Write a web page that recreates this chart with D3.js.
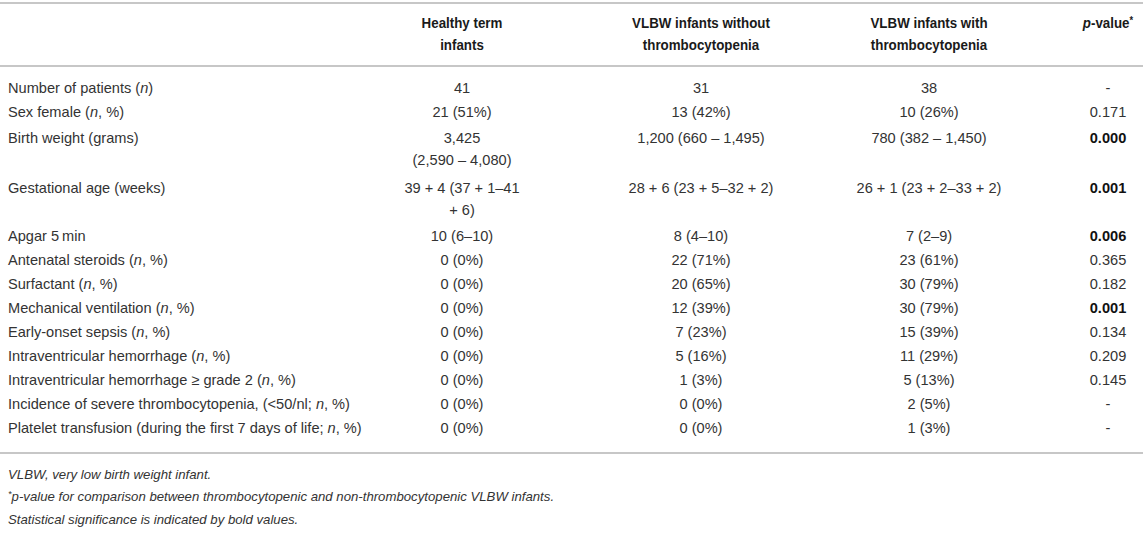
<!DOCTYPE html>
<html>
<head>
<meta charset="utf-8">
<script src="https://cdn.jsdelivr.net/npm/d3@7"></script>
<style>
html,body{margin:0;padding:0;background:#fff;}
svg{display:block;}
</style>
</head>
<body>
<div id="chart"></div>
<script>
// ---------- data ----------
const columnHeaders = [
  ["Healthy term", "infants"],
  ["VLBW infants without", "thrombocytopenia"],
  ["VLBW infants with", "thrombocytopenia"],
  ["*p*-value^*"]
];
const rowLabels = [
  "Number of patients (*n*)",
  "Sex female (*n*, %)",
  "Birth weight (grams)",
  "Gestational age (weeks)",
  "Apgar 5\u2009min",
  "Antenatal steroids (*n*, %)",
  "Surfactant (*n*, %)",
  "Mechanical ventilation (*n*, %)",
  "Early-onset sepsis (*n*, %)",
  "Intraventricular hemorrhage (*n*, %)",
  "Intraventricular hemorrhage \u2265 grade 2 (*n*, %)",
  "Incidence of severe thrombocytopenia, (<50/nl; *n*, %)",
  "Platelet transfusion (during the first 7 days of life; *n*, %)"
];
const healthyTerm = [
  "41", "21 (51%)", "3,425|(2,590 \u2013 4,080)", "39 + 4 (37 + 1\u201341|+ 6)",
  "10 (6\u201310)", "0 (0%)", "0 (0%)", "0 (0%)", "0 (0%)", "0 (0%)", "0 (0%)", "0 (0%)", "0 (0%)"
];
const vlbwWithout = [
  "31", "13 (42%)", "1,200 (660 \u2013 1,495)", "28 + 6 (23 + 5\u201332 + 2)",
  "8 (4\u201310)", "22 (71%)", "20 (65%)", "12 (39%)", "7 (23%)", "5 (16%)", "1 (3%)", "0 (0%)", "0 (0%)"
];
const vlbwWith = [
  "38", "10 (26%)", "780 (382 \u2013 1,450)", "26 + 1 (23 + 2\u201333 + 2)",
  "7 (2\u20139)", "23 (61%)", "30 (79%)", "30 (79%)", "15 (39%)", "11 (29%)", "5 (13%)", "2 (5%)", "1 (3%)"
];
const pValues = [
  "-", "0.171", "0.000", "0.001", "0.006", "0.365", "0.182", "0.001", "0.134", "0.209", "0.145", "-", "-"
];
const significant = [
  false, false, true, true, true, false, false, true, false, false, false, false, false
];
const footnotes = [
  "VLBW, very low birth weight infant.",
  "^*p-value for comparison between thrombocytopenic and non-thrombocytopenic VLBW infants.",
  "Statistical significance is indicated by bold values."
];

// ---------- layout ----------
const W = 1143, H = 536;
const svg = d3.select("#chart").append("svg").attr("width", W).attr("height", H);
const bodyFont = "'Liberation Sans', Arial, Helvetica, sans-serif";
const textColor = "#333";
const ruleColor = "#b5b5b5";

const colCenters = d3.scaleOrdinal().domain([0, 1, 2, 3]).range([462, 701, 929, 1108]);

// rich text: *x* italic, ^* superscript asterisk
function rich(sel, str) {
  const parts = str.split(/(\*[^*]+\*|\^\*)/).filter(s => s.length);
  let resetNext = false;
  parts.forEach(p => {
    let t;
    if (p === "^*") {
      t = sel.append("tspan").attr("font-size", "0.7em").attr("dy", "-0.45em").text("*");
      resetNext = true;
      return;
    } else if (p.startsWith("*") && p.endsWith("*")) {
      t = sel.append("tspan").attr("font-style", "italic").text(p.slice(1, -1));
    } else {
      t = sel.append("tspan").text(p);
    }
    if (resetNext) { t.attr("dy", "0.315em"); resetNext = false; }
  });
}

// rules
const rules = [3, 66, 453];
svg.selectAll("line.rule").data(rules).join("line")
  .attr("class", "rule")
  .attr("x1", 0).attr("x2", W)
  .attr("y1", d => d).attr("y2", d => d)
  .attr("stroke", ruleColor).attr("stroke-width", 1.6);

// header (condensed bold)
const headSize = 15;
columnHeaders.forEach((lines, ci) => {
  lines.forEach((ln, li) => {
    const cy = lines.length === 1 ? 23 : 23 + li * 22;
    const g = svg.append("g")
      .attr("transform", `translate(${colCenters(ci)},${cy + 0.35 * headSize}) scale(0.89,1)`);
    const t = g.append("text")
      .attr("x", 0).attr("y", 0)
      .attr("text-anchor", "middle")
      .attr("font-family", bodyFont)
      .attr("font-weight", "bold")
      .attr("font-size", headSize)
      .attr("fill", "#1a1a1a");
    rich(t, ln);
  });
});

// rows: compute y positions
const lineGap = 22;
const series = [healthyTerm, vlbwWithout, vlbwWith];
const rowLines = rowLabels.map((_, i) => d3.max(series, s => s[i].split("|").length));
let y = 76;
const rowY = rowLines.map(n => {
  const pad = n > 1 ? 2 : 0;
  const first = y + 12 + pad;
  y += 24 + (n - 1) * lineGap + pad * 2;
  return first;
});

const bodySize = 14.6;
const base = c => c + 0.35 * bodySize;
rowLabels.forEach((lab, i) => {
  const t = svg.append("text")
    .attr("x", 8).attr("y", base(rowY[i]))
    .attr("font-family", bodyFont).attr("font-size", bodySize).attr("fill", textColor);
  rich(t, lab);
});

series.forEach((vals, ci) => {
  vals.forEach((v, i) => {
    v.split("|").forEach((ln, li) => {
      svg.append("text")
        .attr("x", colCenters(ci)).attr("y", base(rowY[i] + li * lineGap))
        .attr("text-anchor", "middle")
        .attr("font-family", bodyFont).attr("font-size", bodySize).attr("fill", textColor)
        .text(ln);
    });
  });
});

pValues.forEach((v, i) => {
  svg.append("text")
    .attr("x", colCenters(3)).attr("y", base(rowY[i]))
    .attr("text-anchor", "middle")
    .attr("font-family", bodyFont).attr("font-size", bodySize)
    .attr("font-weight", significant[i] ? "bold" : "normal")
    .attr("fill", significant[i] ? "#111" : textColor)
    .text(v);
});

// footnotes
const footSize = 13.2;
footnotes.forEach((f, i) => {
  const t = svg.append("text")
    .attr("x", 8).attr("y", 474 + i * 22.5 + 0.35 * footSize)
    .attr("font-family", bodyFont).attr("font-size", footSize).attr("font-style", "italic")
    .attr("fill", textColor);
  rich(t, f);
});
</script>
</body>
</html>
